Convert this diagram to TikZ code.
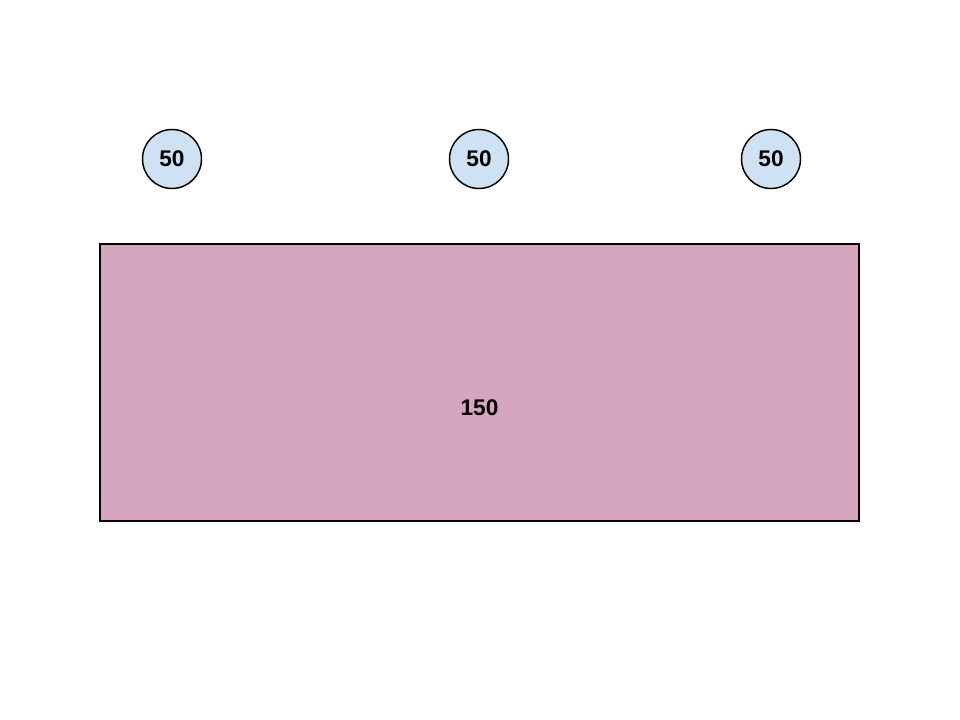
\documentclass[tikz,border=0pt]{standalone}
\usepackage{fontspec}
\setmainfont{Liberation Sans}
\definecolor{bubbleblue}{RGB}{207,226,243}
\definecolor{blockpink}{RGB}{213,166,189}
\tikzset{
  bubble/.style={draw, circle, fill=bubbleblue, line width=1.1, minimum size=44.25pt, inner sep=0pt, font=\fontsize{17}{20}\selectfont\bfseries},
  block/.style={draw, rectangle, fill=blockpink, line width=1.1, minimum width=569.25pt, minimum height=207.75pt, inner sep=0pt},
  blocklabel/.style={font=\fontsize{17}{20}\selectfont\bfseries, yshift=-18.75pt}
}
\begin{document}
\begin{tikzpicture}[x=0.75pt,y=0.75pt,yscale=-1,xscale=1]
\useasboundingbox (0,0) rectangle (960,720); %set diagram to the page size

%Shape: Circle [id:left]
\node [bubble] (leftpart) at (172,159) {50};
%Shape: Circle [id:middle]
\node [bubble] (midpart) at (479,159) {50};
%Shape: Circle [id:right]
\node [bubble] (rightpart) at (771,159) {50};

%Shape: Rectangle [id:total]
\node [block, label={[blocklabel]center:150}] (total) at (479.5,382.5) {};

\end{tikzpicture}
\end{document}
